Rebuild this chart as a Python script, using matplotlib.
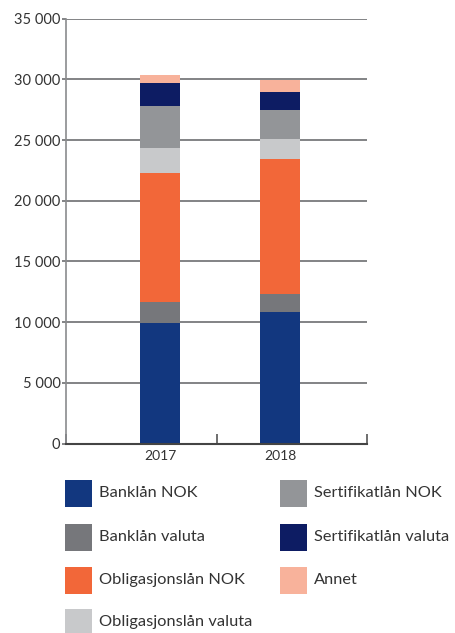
import matplotlib
matplotlib.use("Agg")
import matplotlib.pyplot as plt
from matplotlib.patches import Rectangle
from matplotlib.ticker import FuncFormatter

plt.rcParams['font.family'] = ['Lato', 'DejaVu Sans']

years = ["2017", "2018"]
series = ["Banklån NOK", "Banklån valuta", "Obligasjonslån NOK", "Obligasjonslån valuta",
          "Sertifikatlån NOK", "Sertifikatlån valuta", "Annet"]
banklan_nok = [9950, 10820]
banklan_valuta = [1700, 1490]
oblig_nok = [10630, 11100]
oblig_valuta = [2060, 1670]
sert_nok = [3460, 2390]
sert_valuta = [1900, 1490]
annet = [660, 960]
values = [banklan_nok, banklan_valuta, oblig_nok, oblig_valuta, sert_nok, sert_valuta, annet]
colors = ["#12377f", "#76777b", "#f26739", "#c8c9cb", "#939598", "#0d1c63", "#f8b29b"]
yticks = [0, 5000, 10000, 15000, 20000, 25000, 30000, 35000]

fig = plt.figure(figsize=(4.55, 6.33), dpi=100)
ax = fig.add_axes([66/455, 1-443.5/633, 301/455, (443.5-18.7)/633])

x = [0, 1]
bottom = [0, 0]
for vals, col, name in zip(values, colors, series):
    ax.bar(x, vals, width=1/3, bottom=bottom, color=col, zorder=3, label=name)
    bottom = [b + v for b, v in zip(bottom, vals)]

ax.set_xlim(-0.783, 1.725)
ax.set_ylim(0, 35000)
ax.set_yticks(yticks)
ax.yaxis.set_major_formatter(FuncFormatter(lambda v, p: f"{int(v):,}".replace(",", " ")))
ax.grid(axis='y', color='#6d6e71', linewidth=1.2, zorder=0)
ax.set_xticks(x)
ax.set_xticklabels(years)
ax.set_xticks([-0.783, 0.475, 1.725], minor=True)
ax.tick_params(axis='x', which='major', length=0, pad=5, labelsize=10, labelcolor='#333333')
ax.tick_params(axis='x', which='minor', direction='in', length=7, width=1.2, color='#555555')
ax.tick_params(axis='y', length=3, width=1.2, color='#6d6e71', pad=1, labelsize=10.5, labelcolor='#333333')
for s in ['top', 'right']:
    ax.spines[s].set_visible(False)
ax.spines['left'].set_color('#8a8b8e')
ax.spines['left'].set_linewidth(1.2)
ax.spines['bottom'].set_color('#444444')
ax.spines['bottom'].set_linewidth(1.5)
ax.spines['bottom'].set_zorder(4)

# Legend (manual, two columns)
col_x = [65, 280]
row_y = [493, 537, 580, 622]
for i, (name, col) in enumerate(zip(series, colors)):
    c = 0 if i < 4 else 1
    r = i if i < 4 else i - 4
    sx = col_x[c]
    sy = row_y[r]
    fig.add_artist(Rectangle((sx/455, 1-(sy+13.5)/633), 27/455, 27/633,
                             transform=fig.transFigure, color=col, linewidth=0))
    fig.text((sx+34)/455, 1-sy/633, name, fontsize=11.8, color='#333333',
             va='center', ha='left')

fig.savefig("out.png", dpi=100)
